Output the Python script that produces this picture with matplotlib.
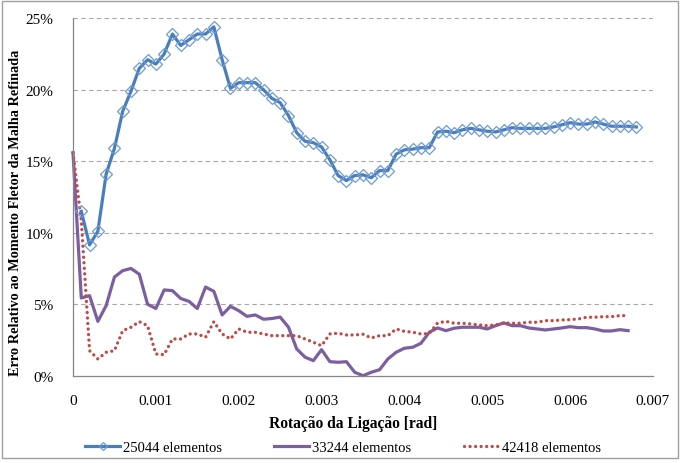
import matplotlib
matplotlib.use("Agg")
import matplotlib.pyplot as plt
from matplotlib.patches import Rectangle
import numpy as np

step = 0.0001
blue_vals = [11.5, 9.15, 10.1, 14.1, 15.9, 18.5, 19.9, 21.5, 22.1, 21.8,
             22.5, 23.9, 23.1, 23.5, 23.9, 23.9, 24.4, 22.1, 20.1, 20.5,
             20.5, 20.5, 20.0, 19.4, 19.1, 18.2, 17.0, 16.4, 16.3, 16.0,
             15.1, 14.0, 13.65, 14.0, 14.05, 13.85, 14.35, 14.35, 15.5, 15.8,
             15.85, 15.95, 15.95, 17.05, 17.1, 17.0, 17.2, 17.3, 17.2, 17.1,
             17.05, 17.2, 17.35, 17.3, 17.3, 17.3, 17.3, 17.4, 17.55, 17.7,
             17.6, 17.6, 17.75, 17.6, 17.45, 17.45, 17.45, 17.4]
purple_vals = [15.6, 5.44, 5.6, 3.8, 4.9, 6.9, 7.35, 7.5, 7.1, 5.0,
               4.7, 6.0, 5.95, 5.4, 5.2, 4.7, 6.2, 5.9, 4.25, 4.85,
               4.55, 4.15, 4.25, 3.95, 4.0, 4.1, 3.4, 1.87, 1.3, 1.05,
               1.82, 0.98, 0.94, 0.98, 0.24, 0.0, 0.24, 0.42, 1.17, 1.64,
               1.92, 1.99, 2.27, 3.04, 3.34, 3.15, 3.32, 3.39, 3.39, 3.39,
               3.27, 3.5, 3.69, 3.5, 3.5, 3.34, 3.27, 3.2, 3.27, 3.34,
               3.43, 3.36, 3.36, 3.27, 3.13, 3.13, 3.22, 3.15]
red_vals = [15.6, 10.85, 1.75, 1.17, 1.64, 1.75, 3.15, 3.39, 3.78, 3.5,
            1.52, 1.47, 2.57, 2.57, 2.92, 2.92, 2.69, 3.78, 2.92, 2.57,
            3.27, 3.04, 3.04, 2.92, 2.8, 2.8, 2.8, 2.8, 2.57, 2.34,
            2.1, 2.92, 2.97, 2.85, 2.85, 2.9, 2.64, 2.8, 2.8, 3.27,
            3.1, 3.04, 2.92, 2.95, 3.69, 3.8, 3.67, 3.67, 3.62, 3.55,
            3.5, 3.55, 3.69, 3.67, 3.67, 3.74, 3.74, 3.85, 3.85, 3.9,
            3.92, 3.97, 4.09, 4.09, 4.13, 4.13, 4.2, 4.2]

blue_x = [step * (i + 1) for i in range(len(blue_vals))]
purple_x = [step * i for i in range(len(purple_vals))]
red_x = [step * i for i in range(len(red_vals))]

labels = ["25044 elementos", "33244 elementos", "42418 elementos"]
xticks = [0, 0.001, 0.002, 0.003, 0.004, 0.005, 0.006, 0.007]
xtick_labels = ["0", "0.001", "0.002", "0.003", "0.004", "0.005", "0.006", "0.007"]
yticks = [0, 5, 10, 15, 20, 25]
ytick_labels = ["0%", "5%", "10%", "15%", "20%", "25%"]

plt.rcParams['font.family'] = ['Liberation Serif', 'DejaVu Serif']

fig = plt.figure(figsize=(6.81, 4.64), dpi=100)
ax = fig.add_axes([73/681, 1-376.7/464, (653-73)/681, (376.7-19.3)/464])

ax.set_xlim(0, 0.007)
ax.set_ylim(0, 25)
ax.set_yticks(yticks)
ax.set_yticklabels(ytick_labels)
ax.set_xticks(xticks)
ax.set_xticklabels(xtick_labels)
ax.tick_params(axis='both', length=0, labelsize=11, colors='black')
ax.tick_params(axis='y', pad=14)
ax.tick_params(axis='x', pad=13)

for y in yticks[1:]:
    ax.axhline(y, color='#A6A6A6', lw=0.8, ls=(0, (4, 3)), zorder=0)

for s in ['top', 'right']:
    ax.spines[s].set_visible(False)
for s in ['left', 'bottom']:
    ax.spines[s].set_color('#868686')
    ax.spines[s].set_linewidth(0.9)

l1, = ax.plot(blue_x, blue_vals, color='#4A7EBB', lw=2.3, marker='D', ms=6.5,
              mfc='none', mec='#6F9AD3', mew=0.9, label=labels[0], zorder=3, clip_on=False)
l2, = ax.plot(purple_x, purple_vals, color='#7B5FA1', lw=2.3, label=labels[1], zorder=2, clip_on=False)
l3, = ax.plot(red_x, red_vals, color='#BE4B48', lw=2.4, ls=(0, (0.01, 1.65)),
              dash_capstyle='round', label=labels[2], zorder=2, clip_on=False)

ax.set_xlabel("Rotação da Ligação [rad]", fontsize=11.2, fontweight='bold')
ax.xaxis.set_label_coords((353-73)/580, (376.7-424)/357.4)
ax.xaxis.label.set_va('center')
ax.set_ylabel("Erro Relativo ao Momento Fletor da Malha Refinada", fontsize=10.3,
              fontweight='bold')
ax.yaxis.set_label_coords((16-73)/580, (376.7-213)/357.4)
ax.yaxis.label.set_va('center')

fig.legend(handles=[l1, l2, l3], labels=labels, loc='center', ncol=3,
           bbox_to_anchor=(343/681, 1-448/464), frameon=False,
           prop={'family': ['Liberation Serif'], 'size': 10.5},
           columnspacing=3.6, handlelength=2.4, handletextpad=0.2, markerscale=0.6)

fig.patches.append(Rectangle((2/681, 1-458.5/464), 675.5/681, 457/464, transform=fig.transFigure,
                             fill=False, edgecolor='#A0A0A0', lw=1.0))

fig.savefig("out.png", dpi=100)
